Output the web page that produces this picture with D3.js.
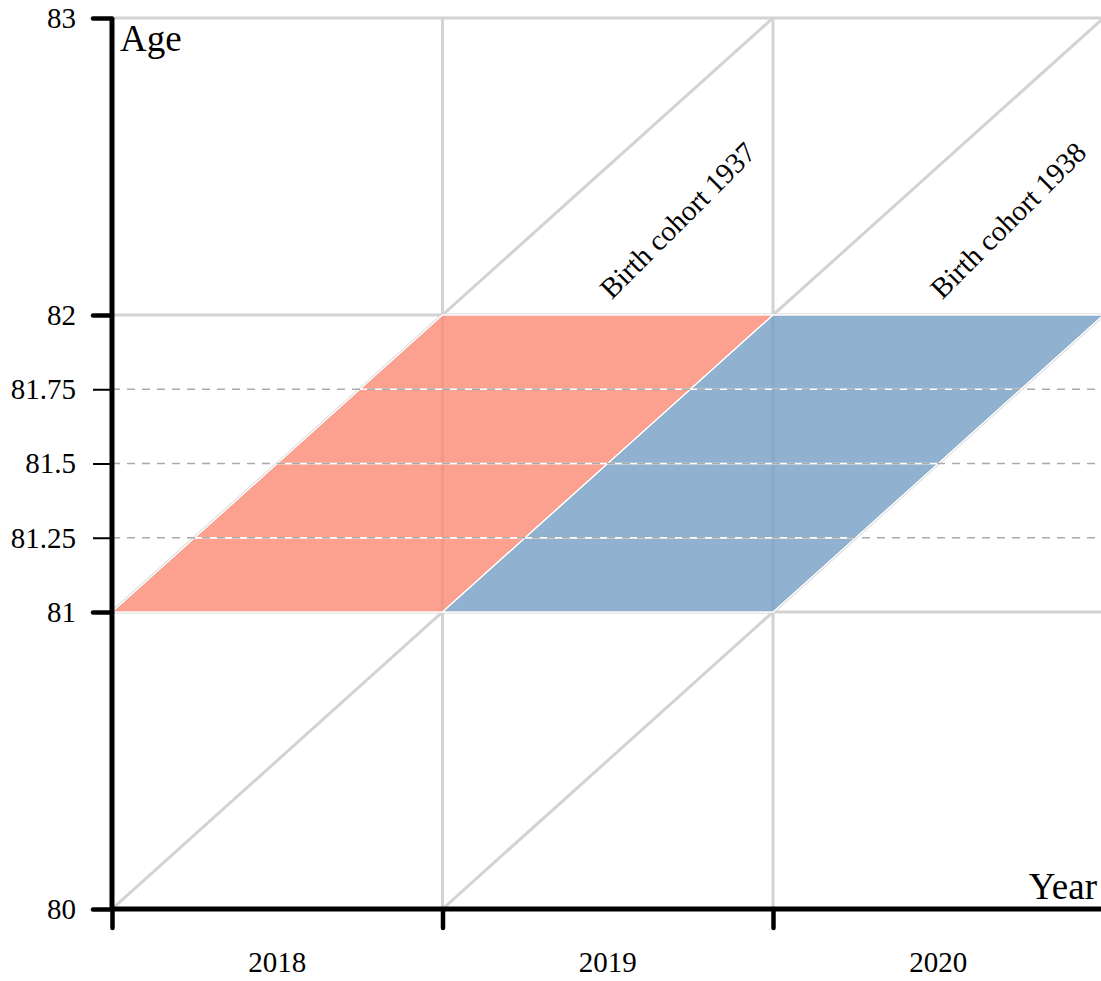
<!DOCTYPE html>
<html lang="en">
<head>
    <meta charset="UTF-8">
    <title>Lexis diagram</title>
    <script src="https://d3js.org/d3.v7.min.js"></script>
    <style>
        body { margin: 0; background: #fff; }
        svg { display: block; font-family: "Liberation Serif", "Times New Roman", serif; }
    </style>
</head>
<body>
    <div id="container"></div>

    <script>
        // Data
        const years = [2018, 2019, 2020];
        const yearTicks = [2018, 2019, 2020, 2021];
        const ageTicks = [80, 81, 82, 83];
        const ageMinorTicks = [81.25, 81.5, 81.75];
        const cohorts = [1937, 1938];
        const cohortColors = ["#fb8873", "#749fc4"];
        const cohortLines = [1937, 1938, 1939];
        const bandEdges = [81, 81.25, 81.5, 81.75, 82];

        const width = 1101;
        const height = 981;
        const gridColor = "#d3d3d3";

        const svg = d3.select("#container").append("svg")
            .attr("width", width)
            .attr("height", height);

        const x = d3.scaleLinear().domain([2018, 2021]).range([112, 1103.5]);
        const y = d3.scaleLinear().domain([80, 83]).range([909, 18]);

        // clip to plot area
        svg.append("clipPath").attr("id", "plot")
            .append("rect")
            .attr("x", x(2018)).attr("y", y(83) - 2)
            .attr("width", x(2021) - x(2018)).attr("height", y(80) - y(83) + 2);

        const grid = svg.append("g").attr("clip-path", "url(#plot)");

        // horizontal grid
        grid.selectAll(".hgrid").data(ageTicks.slice(1)).enter().append("line")
            .attr("x1", x(2018)).attr("x2", x(2021))
            .attr("y1", d => y(d)).attr("y2", d => y(d))
            .attr("stroke", gridColor).attr("stroke-width", 3);

        // vertical grid
        grid.selectAll(".vgrid").data(yearTicks.slice(1)).enter().append("line")
            .attr("x1", d => x(d)).attr("x2", d => x(d))
            .attr("y1", y(80)).attr("y2", y(83))
            .attr("stroke", gridColor).attr("stroke-width", 3);

        // cohort diagonals: age = year - birth
        grid.selectAll(".diag").data(cohortLines).enter().append("line")
            .attr("x1", d => x(d + 80)).attr("y1", y(80))
            .attr("x2", d => x(d + 83)).attr("y2", y(83))
            .attr("stroke", gridColor).attr("stroke-width", 3);

        // cohort bands (age quarters)
        const bands = [];
        cohorts.forEach((b, i) => {
            for (let k = 0; k < bandEdges.length - 1; k++) {
                bands.push({ birth: b, a0: bandEdges[k], a1: bandEdges[k + 1], color: cohortColors[i] });
            }
        });

        svg.append("g").selectAll("path").data(bands).enter().append("path")
            .attr("d", d => {
                const pts = [
                    [x(d.birth + d.a0), y(d.a0)],
                    [x(d.birth + 1 + d.a0), y(d.a0)],
                    [x(d.birth + 1 + d.a1), y(d.a1)],
                    [x(d.birth + d.a1), y(d.a1)]
                ];
                return "M" + pts.join("L") + "Z";
            })
            .attr("fill", d => d.color)
            .attr("fill-opacity", 0.8)
            .attr("stroke", "#fff")
            .attr("stroke-width", 1.5)
            .attr("stroke-linejoin", "round");

        // dashed quarter-age lines
        svg.append("g").selectAll("line").data(ageMinorTicks).enter().append("line")
            .attr("x1", x(2018)).attr("x2", width)
            .attr("y1", d => y(d)).attr("y2", d => y(d))
            .attr("stroke", "#aaaaaa").attr("stroke-width", 1.5)
            .attr("stroke-dasharray", "8,7");

        // cohort labels
        svg.append("g").selectAll("text").data(cohorts).enter().append("text")
            .attr("transform", d => `translate(${x(d + 82.5) + 4},${y(82.05)}) rotate(-45)`)
            .attr("font-size", 29)
            .attr("fill", "#000")
            .text(d => `Birth cohort ${d}`);

        // y axis
        const yAxis = svg.append("g")
            .attr("transform", `translate(${x(2018)},0)`)
            .call(d3.axisLeft(y).tickValues(ageTicks).tickSize(19).tickSizeOuter(0).tickPadding(17).tickFormat(d3.format("d")));
        yAxis.select(".domain").remove();
        yAxis.selectAll(".tick line").attr("stroke", "#000").attr("stroke-width", 4.5).attr("stroke-linecap", "round");
        yAxis.selectAll(".tick text").attr("font-size", 29).attr("font-family", "Liberation Serif").attr("fill", "#000");

        const yMinor = svg.append("g")
            .attr("transform", `translate(${x(2018)},0)`)
            .call(d3.axisLeft(y).tickValues(ageMinorTicks).tickSize(19).tickPadding(17).tickFormat(d => d));
        yMinor.select(".domain").remove();
        yMinor.selectAll(".tick line").attr("stroke", "#000").attr("stroke-width", 2);
        yMinor.selectAll(".tick text").attr("font-size", 29).attr("font-family", "Liberation Serif").attr("fill", "#000");

        // x axis
        const xAxis = svg.append("g")
            .attr("transform", `translate(0,${y(80)})`)
            .call(d3.axisBottom(x).tickValues(yearTicks).tickSize(19).tickSizeOuter(0).tickFormat(""));
        xAxis.select(".domain").remove();
        xAxis.selectAll(".tick line").attr("stroke", "#000").attr("stroke-width", 4.5).attr("stroke-linecap", "round");

        // year labels centred in each interval
        svg.append("g").selectAll("text").data(years).enter().append("text")
            .attr("x", d => x(d + 0.5))
            .attr("y", 972)
            .attr("text-anchor", "middle")
            .attr("font-size", 29)
            .text(d => d);

        // axis lines
        svg.append("line")
            .attr("x1", x(2018)).attr("x2", x(2018))
            .attr("y1", y(83)).attr("y2", y(80))
            .attr("stroke", "#000").attr("stroke-width", 5);
        svg.append("line")
            .attr("x1", x(2018)).attr("x2", width)
            .attr("y1", y(80)).attr("y2", y(80))
            .attr("stroke", "#000").attr("stroke-width", 5);

        // axis titles
        svg.append("text")
            .attr("x", x(2018) + 8).attr("y", 51)
            .attr("font-size", 37)
            .text("Age");
        svg.append("text")
            .attr("x", 1097).attr("y", y(80) - 10)
            .attr("text-anchor", "end")
            .attr("font-size", 37)
            .text("Year");
    </script>
</body>
</html>
